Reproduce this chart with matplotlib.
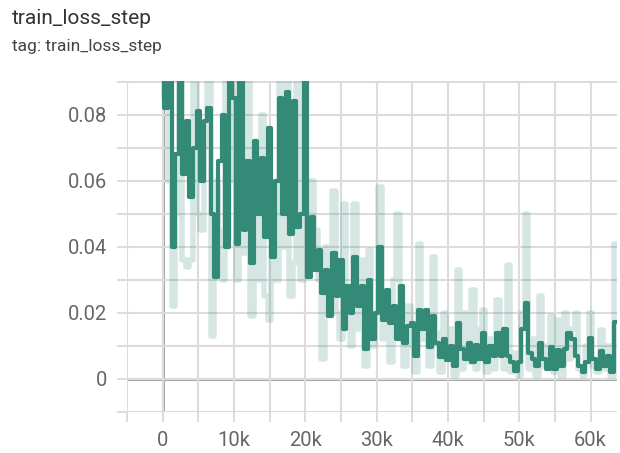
import matplotlib
matplotlib.use("Agg")
import matplotlib.pyplot as plt
from matplotlib.ticker import MultipleLocator, FuncFormatter

plt.rcParams['font.family'] = ['Roboto', 'DejaVu Sans']

# step values (every 500 steps)
steps = [i * 500 for i in range(128)]

# smoothed (dark) curve
loss_smooth = [
    0.095, 0.082, 0.095, 0.040, 0.068, 0.095, 0.062, 0.078, 0.055, 0.070,
    0.081, 0.060, 0.078, 0.082, 0.050, 0.031, 0.066, 0.080, 0.040, 0.095,
    0.085, 0.041, 0.095, 0.045, 0.066, 0.035, 0.072, 0.050, 0.067, 0.043,
    0.076, 0.037, 0.060, 0.085, 0.050, 0.087, 0.044, 0.084, 0.046, 0.050,
    0.095, 0.031, 0.049, 0.033, 0.039, 0.026, 0.033, 0.019, 0.038, 0.025,
    0.036, 0.015, 0.028, 0.020, 0.037, 0.022, 0.028, 0.009, 0.030, 0.012,
    0.020, 0.040, 0.018, 0.027, 0.017, 0.022, 0.012, 0.028, 0.011, 0.016,
    0.017, 0.007, 0.021, 0.015, 0.021, 0.0097, 0.019, 0.011, 0.0067, 0.012,
    0.0058, 0.010, 0.004, 0.017, 0.009, 0.006, 0.011, 0.005, 0.0104, 0.006,
    0.014, 0.005, 0.010, 0.007, 0.014, 0.007, 0.015, 0.007, 0.005, 0.0025,
    0.005, 0.015, 0.023, 0.008, 0.006, 0.004, 0.011, 0.006, 0.003, 0.0097,
    0.003, 0.0088, 0.004, 0.009, 0.014, 0.012, 0.007, 0.004, 0.002, 0.005,
    0.0124, 0.006, 0.003, 0.0085, 0.004, 0.007, 0.002, 0.0173,
]

# raw (light) curve
loss_raw = [
    0.098, 0.085, 0.060, 0.022, 0.050, 0.100, 0.036, 0.034, 0.036, 0.090,
    0.050, 0.045, 0.070, 0.100, 0.013, 0.060, 0.045, 0.030, 0.095, 0.060,
    0.100, 0.030, 0.070, 0.038, 0.100, 0.019, 0.050, 0.030, 0.080, 0.025,
    0.018, 0.050, 0.030, 0.100, 0.040, 0.100, 0.025, 0.035, 0.100, 0.030,
    0.060, 0.050, 0.060, 0.045, 0.030, 0.006, 0.040, 0.030, 0.057, 0.020,
    0.012, 0.053, 0.020, 0.010, 0.053, 0.015, 0.036, 0.004, 0.039, 0.010,
    0.020, 0.058, 0.012, 0.025, 0.005, 0.030, 0.050, 0.020, 0.004, 0.022,
    0.010, 0.002, 0.041, 0.012, 0.020, 0.004, 0.037, 0.014, 0.002, 0.020,
    0.008, 0.015, 0.001, 0.033, 0.003, 0.020, 0.005, 0.027, 0.003, 0.015,
    0.021, 0.002, 0.012, 0.003, 0.024, 0.015, 0.003, 0.0345, 0.002, 0.008,
    0.001, 0.020, 0.050, 0.003, 0.012, 0.001, 0.025, 0.004, 0.010, 0.019,
    0.002, 0.018, 0.001, 0.020, 0.006, 0.015, 0.020, 0.003, 0.001, 0.010,
    0.020, 0.004, 0.002, 0.0148, 0.003, 0.010, 0.001, 0.041,
]

line_color = '#338a76'
grid_color = '#dcdcdc'
label_color = '#666666'

fig = plt.figure(figsize=(6.2, 4.53), dpi=100)
ax = fig.add_axes([127 / 620, 41 / 453, 490 / 620, 331 / 453])

ax.plot(steps, loss_raw, color=line_color, alpha=0.2, linewidth=4,
        drawstyle='steps-mid', zorder=2)
ax.plot(steps, loss_smooth, color=line_color, linewidth=3,
        drawstyle='steps-mid', zorder=3)

ax.axhline(0, color='#9a9a9a', linewidth=2, zorder=1)
ax.axvline(0, color='#9a9a9a', linewidth=2, zorder=1)

ax.set_xlim(-5000, 63700)
ax.set_ylim(-0.01, 0.0902)

ax.xaxis.set_major_locator(MultipleLocator(5000))
ax.yaxis.set_major_locator(MultipleLocator(0.01))


def xfmt(v, pos):
    if round(v) % 10000 != 0 or v < 0:
        return ''
    return '0' if v == 0 else '%dk' % (v / 1000)


def yfmt(v, pos):
    k = round(v * 100)
    if k % 2 != 0 or k < 0:
        return ''
    return '0' if k == 0 else '%.2f' % v


ax.xaxis.set_major_formatter(FuncFormatter(xfmt))
ax.yaxis.set_major_formatter(FuncFormatter(yfmt))

ax.grid(True, color=grid_color, linewidth=1.5, zorder=0)
ax.tick_params(axis='both', length=7, width=1.5, color=grid_color,
               labelcolor=label_color, labelsize=14.5, pad=7)
for s in ax.spines.values():
    s.set_visible(False)

fig.text(12 / 620, 1 - 19 / 453, 'train_loss_step', fontsize=15,
         color='#333333', va='center', ha='left')
fig.text(12 / 620, 1 - 46 / 453, 'tag: train_loss_step', fontsize=12.5,
         color='#444444', va='center', ha='left')

fig.savefig('out.png', dpi=100)
